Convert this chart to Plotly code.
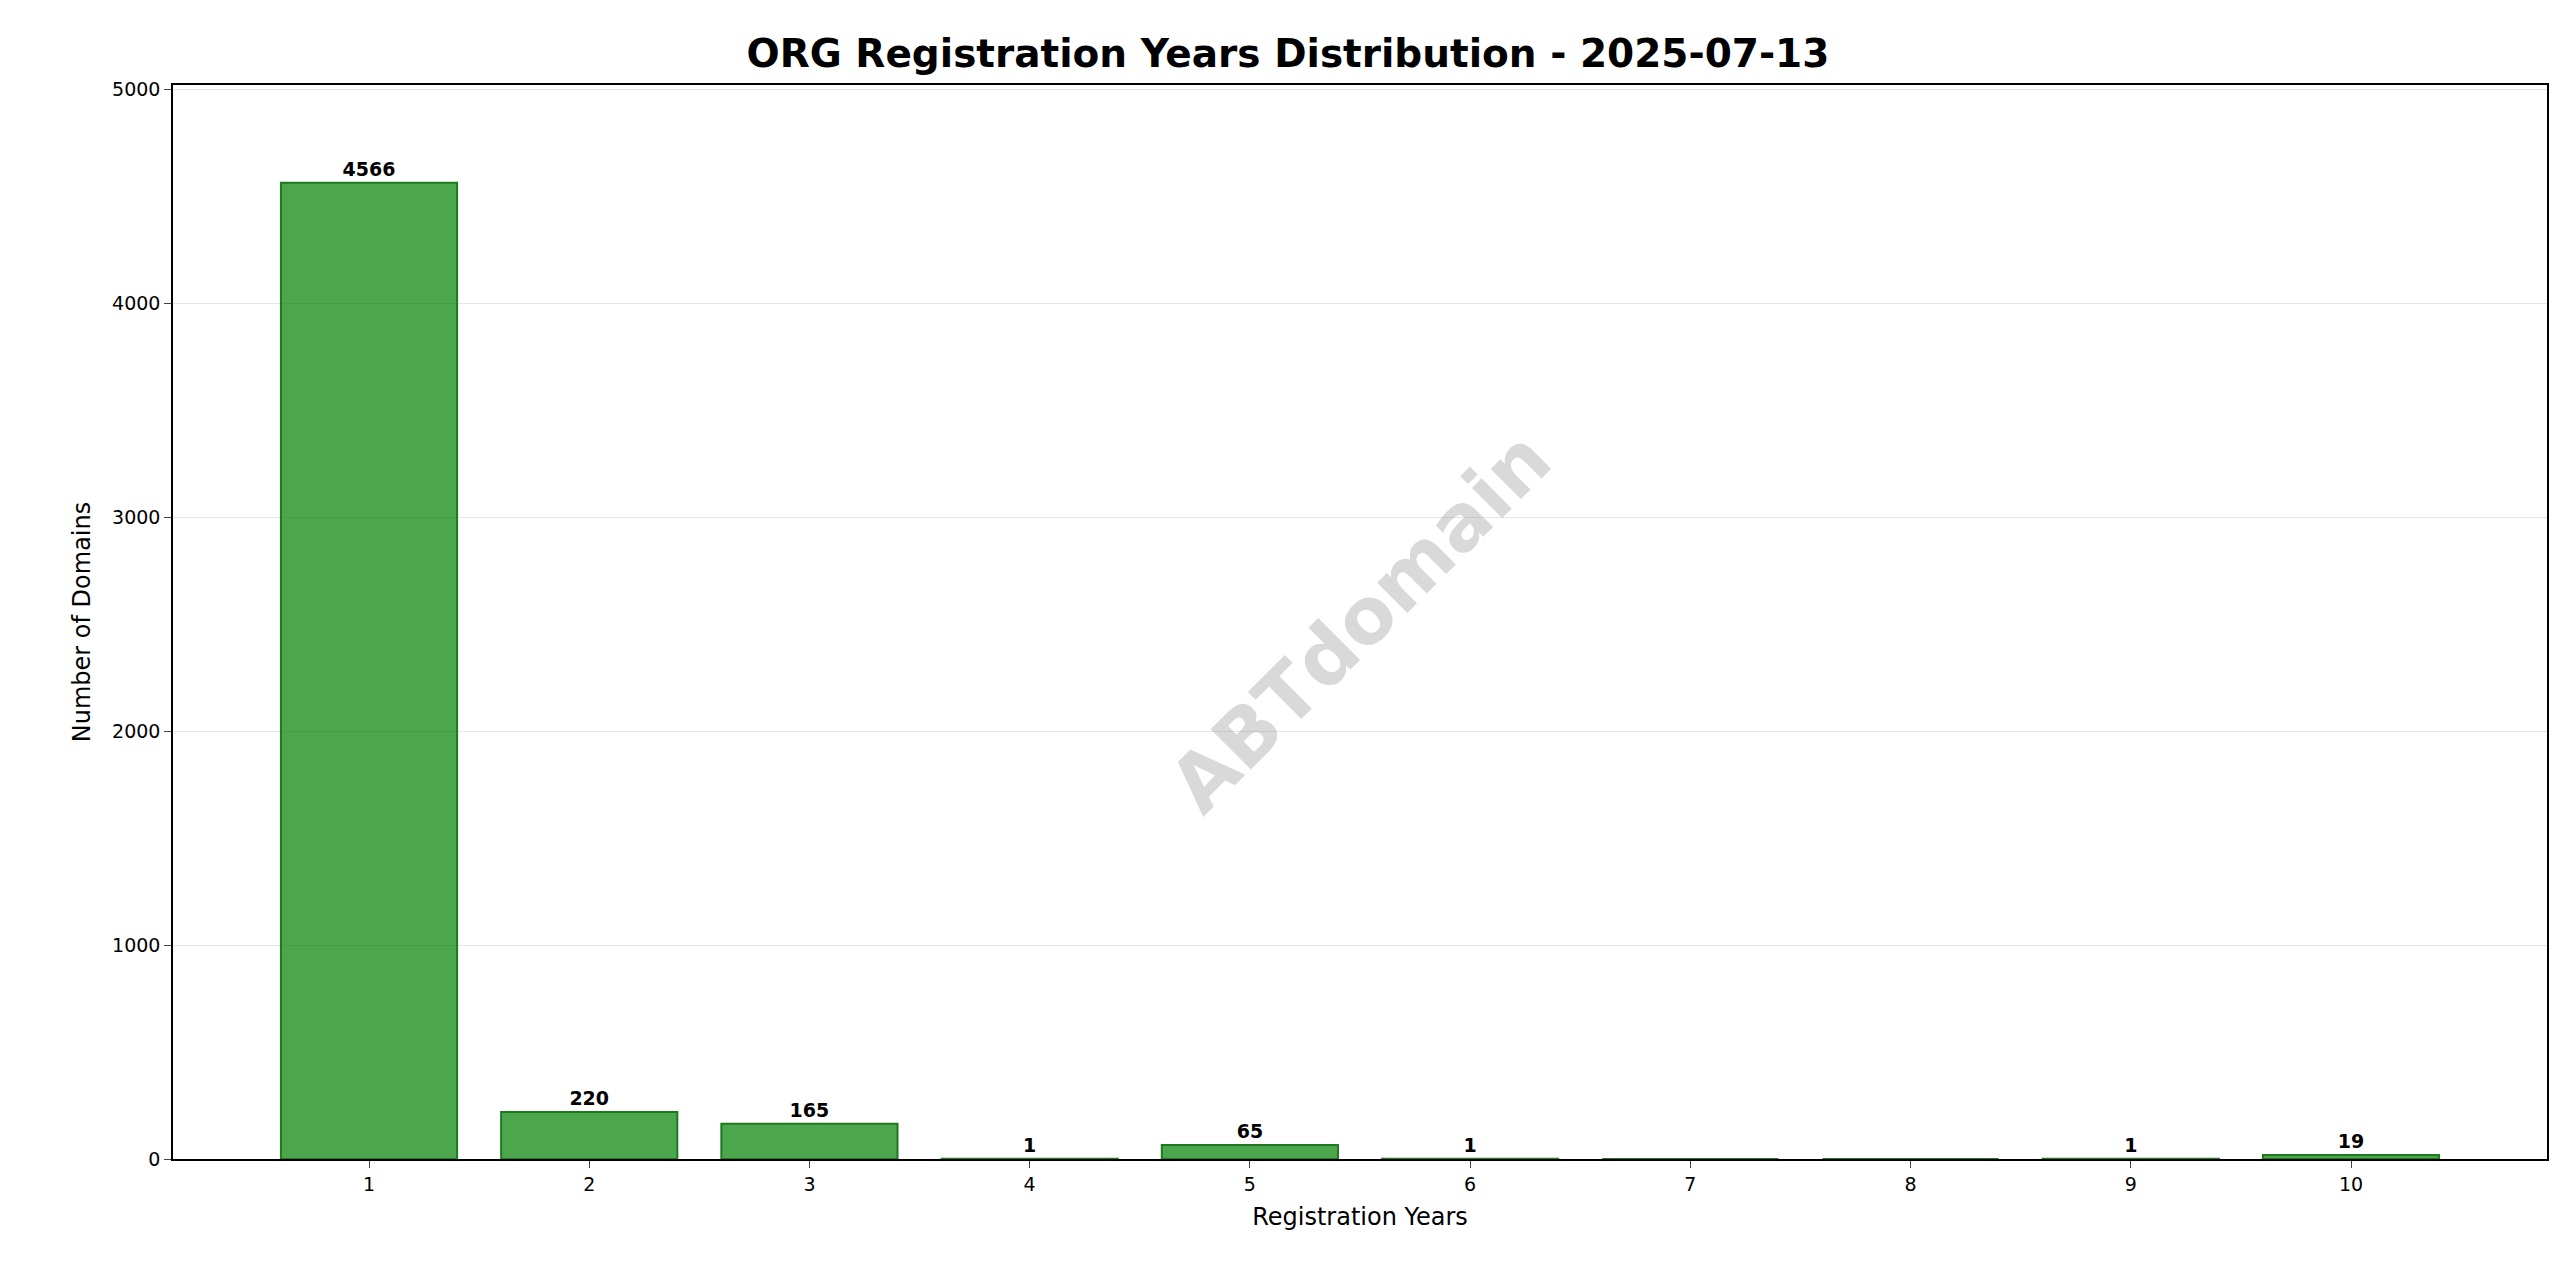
import plotly.graph_objects as go

years = [1, 2, 3, 4, 5, 6, 7, 8, 9, 10]
counts = [4566, 220, 165, 1, 65, 1, 0, 0, 1, 19]
labels = [str(c) if c > 0 else "" for c in counts]

fig = go.Figure(go.Bar(
    x=years, y=counts, width=0.8,
    marker=dict(color="rgba(0,128,0,0.7)", line=dict(color="#1f7a1f", width=2)),
    text=labels, textposition="outside", cliponaxis=False,
    textfont=dict(family="DejaVu Sans", size=19, color="black", weight="bold"),
))

fig.add_annotation(
    text="ABTdomain", x=0.5, y=0.5, xref="paper", yref="paper",
    showarrow=False, textangle=-45,
    font=dict(family="DejaVu Sans", size=78, color="rgba(128,128,128,0.3)", weight="bold"),
)

fig.update_layout(
    width=2560, height=1271,
    margin=dict(l=165, r=21, t=77, b=120),
    plot_bgcolor="white", paper_bgcolor="white",
    font=dict(family="DejaVu Sans", size=19, color="black"),
    title=dict(text="<b>ORG Registration Years Distribution - 2025-07-13</b>",
               x=0.5, xanchor="center", y=0.975, yanchor="top",
               font=dict(size=39)),
    showlegend=False,
    xaxis=dict(range=[0.11, 10.89], tickmode="array", tickvals=years,
               ticktext=[str(y) for y in years], showgrid=False,
               showline=True, linecolor="black", linewidth=1.5, mirror=True,
               ticks="outside", ticklen=7, title=dict(text="Registration Years", font=dict(size=24))),
    yaxis=dict(range=[0, 5022.6], tickvals=[0, 1000, 2000, 3000, 4000, 5000],
               showgrid=True, gridcolor="rgba(0,0,0,0.1)", zeroline=False,
               showline=True, linecolor="black", linewidth=1.5, mirror=True,
               ticks="outside", ticklen=7, title=dict(text="Number of Domains", font=dict(size=24))),
)

fig.write_html("out.html")
